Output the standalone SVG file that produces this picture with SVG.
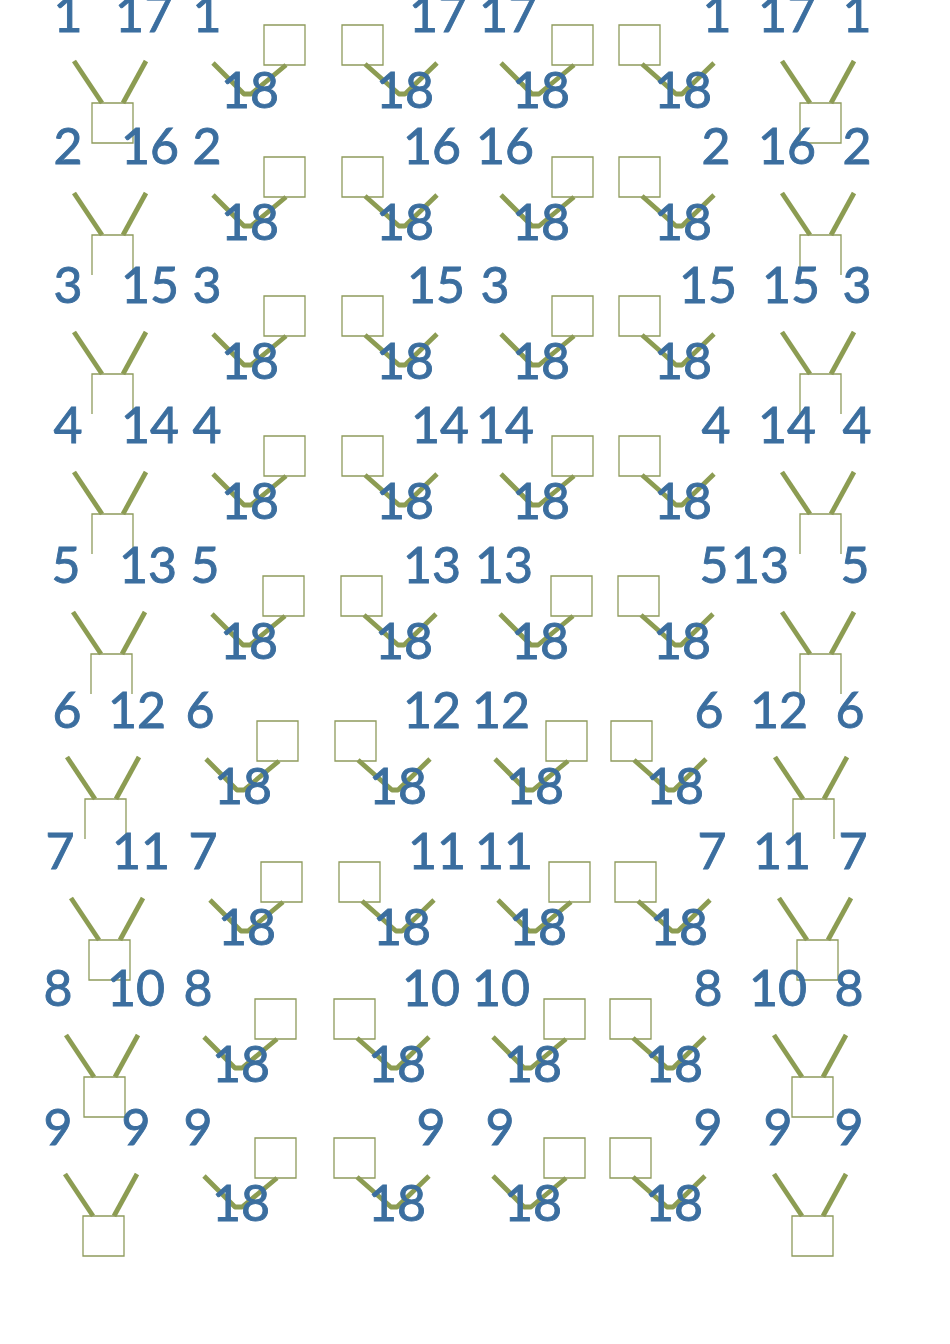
<svg xmlns="http://www.w3.org/2000/svg" xmlns:xlink="http://www.w3.org/1999/xlink" width="950" height="1344" viewBox="0 0 950 1344">
<style>
.bg{fill:#ffffff}
.nd{fill:none;stroke:#8f9b5c;stroke-width:1.3}
.cn{fill:none;stroke:#8c9c52;stroke-width:4.8;stroke-linecap:butt;stroke-linejoin:round}
text{font-family:Lato,"Open Sans","Liberation Sans",sans-serif;font-size:50px;fill:#3b6e9f;stroke:#3b6e9f;stroke-width:0.9;text-anchor:middle}
</style>
<defs>
<path id="cA" d="M-51,38 L-20,69 L-13,69 L22,40"/>
<path id="cB" d="M23,39 L57,69 L63,69 L95,38"/>
<path id="vL" d="M-18,-42 L10,0"/>
<path id="vR" d="M54,-42 L31,0"/>
<path id="sq" d="M0,0 H41 V40 H0 Z"/>
<path id="sqO" d="M0,40 V0 H41 V40"/>
</defs>
<rect class="bg" x="0" y="0" width="950" height="1344"/>

<g id="connectors" class="cn">
<use href="#cA" x="264" y="25"/><use href="#cB" x="342" y="25"/><use href="#cA" x="552" y="25"/><use href="#cB" x="619" y="25"/>
<use href="#vL" x="92" y="103"/><use href="#vR" x="92" y="103"/><use href="#vL" x="800" y="103"/><use href="#vR" x="800" y="103"/>
<use href="#cA" x="264" y="157"/><use href="#cB" x="342" y="157"/><use href="#cA" x="552" y="157"/><use href="#cB" x="619" y="157"/>
<use href="#vL" x="92" y="235"/><use href="#vR" x="92" y="235"/><use href="#vL" x="800" y="235"/><use href="#vR" x="800" y="235"/>
<use href="#cA" x="264" y="296"/><use href="#cB" x="342" y="296"/><use href="#cA" x="552" y="296"/><use href="#cB" x="619" y="296"/>
<use href="#vL" x="92" y="374"/><use href="#vR" x="92" y="374"/><use href="#vL" x="800" y="374"/><use href="#vR" x="800" y="374"/>
<use href="#cA" x="264" y="436"/><use href="#cB" x="342" y="436"/><use href="#cA" x="552" y="436"/><use href="#cB" x="619" y="436"/>
<use href="#vL" x="92" y="514"/><use href="#vR" x="92" y="514"/><use href="#vL" x="800" y="514"/><use href="#vR" x="800" y="514"/>
<use href="#cA" x="263" y="576"/><use href="#cB" x="341" y="576"/><use href="#cA" x="551" y="576"/><use href="#cB" x="618" y="576"/>
<use href="#vL" x="91" y="654"/><use href="#vR" x="91" y="654"/><use href="#vL" x="800" y="654"/><use href="#vR" x="800" y="654"/>
<use href="#cA" x="257" y="721"/><use href="#cB" x="335" y="721"/><use href="#cA" x="546" y="721"/><use href="#cB" x="611" y="721"/>
<use href="#vL" x="85" y="799"/><use href="#vR" x="85" y="799"/><use href="#vL" x="793" y="799"/><use href="#vR" x="793" y="799"/>
<use href="#cA" x="261" y="862"/><use href="#cB" x="339" y="862"/><use href="#cA" x="549" y="862"/><use href="#cB" x="615" y="862"/>
<use href="#vL" x="89" y="940"/><use href="#vR" x="89" y="940"/><use href="#vL" x="797" y="940"/><use href="#vR" x="797" y="940"/>
<use href="#cA" x="255" y="999"/><use href="#cB" x="334" y="999"/><use href="#cA" x="544" y="999"/><use href="#cB" x="610" y="999"/>
<use href="#vL" x="84" y="1077"/><use href="#vR" x="84" y="1077"/><use href="#vL" x="792" y="1077"/><use href="#vR" x="792" y="1077"/>
<use href="#cA" x="255" y="1138"/><use href="#cB" x="334" y="1138"/><use href="#cA" x="544" y="1138"/><use href="#cB" x="610" y="1138"/>
<use href="#vL" x="83" y="1216"/><use href="#vR" x="83" y="1216"/><use href="#vL" x="792" y="1216"/><use href="#vR" x="792" y="1216"/>
</g>

<g id="nodes" class="nd">
<g id="n1a"><use href="#sq" x="264" y="25"/></g><g id="n1b"><use href="#sq" x="342" y="25"/></g><g id="n1c"><use href="#sq" x="552" y="25"/></g><g id="n1d"><use href="#sq" x="619" y="25"/></g>
<g id="n1L"><use href="#sq" x="92" y="103"/></g><g id="n1R"><use href="#sq" x="800" y="103"/></g>
<g id="n2a"><use href="#sq" x="264" y="157"/></g><g id="n2b"><use href="#sq" x="342" y="157"/></g><g id="n2c"><use href="#sq" x="552" y="157"/></g><g id="n2d"><use href="#sq" x="619" y="157"/></g>
<g id="n2L"><use href="#sqO" x="92" y="235"/></g><g id="n2R"><use href="#sqO" x="800" y="235"/></g>
<g id="n3a"><use href="#sq" x="264" y="296"/></g><g id="n3b"><use href="#sq" x="342" y="296"/></g><g id="n3c"><use href="#sq" x="552" y="296"/></g><g id="n3d"><use href="#sq" x="619" y="296"/></g>
<g id="n3L"><use href="#sqO" x="92" y="374"/></g><g id="n3R"><use href="#sqO" x="800" y="374"/></g>
<g id="n4a"><use href="#sq" x="264" y="436"/></g><g id="n4b"><use href="#sq" x="342" y="436"/></g><g id="n4c"><use href="#sq" x="552" y="436"/></g><g id="n4d"><use href="#sq" x="619" y="436"/></g>
<g id="n4L"><use href="#sqO" x="92" y="514"/></g><g id="n4R"><use href="#sqO" x="800" y="514"/></g>
<g id="n5a"><use href="#sq" x="263" y="576"/></g><g id="n5b"><use href="#sq" x="341" y="576"/></g><g id="n5c"><use href="#sq" x="551" y="576"/></g><g id="n5d"><use href="#sq" x="618" y="576"/></g>
<g id="n5L"><use href="#sqO" x="91" y="654"/></g><g id="n5R"><use href="#sqO" x="800" y="654"/></g>
<g id="n6a"><use href="#sq" x="257" y="721"/></g><g id="n6b"><use href="#sq" x="335" y="721"/></g><g id="n6c"><use href="#sq" x="546" y="721"/></g><g id="n6d"><use href="#sq" x="611" y="721"/></g>
<g id="n6L"><use href="#sqO" x="85" y="799"/></g><g id="n6R"><use href="#sqO" x="793" y="799"/></g>
<g id="n7a"><use href="#sq" x="261" y="862"/></g><g id="n7b"><use href="#sq" x="339" y="862"/></g><g id="n7c"><use href="#sq" x="549" y="862"/></g><g id="n7d"><use href="#sq" x="615" y="862"/></g>
<g id="n7L"><use href="#sq" x="89" y="940"/></g><g id="n7R"><use href="#sq" x="797" y="940"/></g>
<g id="n8a"><use href="#sq" x="255" y="999"/></g><g id="n8b"><use href="#sq" x="334" y="999"/></g><g id="n8c"><use href="#sq" x="544" y="999"/></g><g id="n8d"><use href="#sq" x="610" y="999"/></g>
<g id="n8L"><use href="#sq" x="84" y="1077"/></g><g id="n8R"><use href="#sq" x="792" y="1077"/></g>
<g id="n9a"><use href="#sq" x="255" y="1138"/></g><g id="n9b"><use href="#sq" x="334" y="1138"/></g><g id="n9c"><use href="#sq" x="544" y="1138"/></g><g id="n9d"><use href="#sq" x="610" y="1138"/></g>
<g id="n9L"><use href="#sq" x="83" y="1216"/></g><g id="n9R"><use href="#sq" x="792" y="1216"/></g>
</g>

<g id="labels">
<g id="row1"><text x="68" y="32">1</text><text x="144" y="32">17</text><text x="207" y="32">1</text><text x="438" y="32">17</text><text x="508" y="32">17</text><text x="717" y="32">1</text><text x="787" y="32">17</text><text x="857" y="32">1</text>
<text x="250" y="108">18</text><text x="405" y="108">18</text><text x="541" y="108">18</text><text x="683" y="108">18</text></g>
<g id="row2"><text x="68" y="164">2</text><text x="150" y="164">16</text><text x="207" y="164">2</text><text x="432" y="164">16</text><text x="505" y="164">16</text><text x="716" y="164">2</text><text x="787" y="164">16</text><text x="857" y="164">2</text>
<text x="250" y="240">18</text><text x="405" y="240">18</text><text x="541" y="240">18</text><text x="683" y="240">18</text></g>
<g id="row3"><text x="68" y="303">3</text><text x="150" y="303">15</text><text x="207" y="303">3</text><text x="436" y="303">15</text><text x="495" y="303">3</text><text x="708" y="303">15</text><text x="791" y="303">15</text><text x="857" y="303">3</text>
<text x="250" y="379">18</text><text x="405" y="379">18</text><text x="541" y="379">18</text><text x="683" y="379">18</text></g>
<g id="row4"><text x="68" y="443">4</text><text x="150" y="443">14</text><text x="207" y="443">4</text><text x="440" y="443">14</text><text x="505" y="443">14</text><text x="716" y="443">4</text><text x="787" y="443">14</text><text x="857" y="443">4</text>
<text x="250" y="519">18</text><text x="405" y="519">18</text><text x="541" y="519">18</text><text x="683" y="519">18</text></g>
<g id="row5"><text x="66" y="583">5</text><text x="148" y="583">13</text><text x="205" y="583">5</text><text x="432" y="583">13</text><text x="504" y="583">13</text><text x="714" y="583">5</text><text x="760" y="583">13</text><text x="855" y="583">5</text>
<text x="249" y="659">18</text><text x="404" y="659">18</text><text x="540" y="659">18</text><text x="682" y="659">18</text></g>
<g id="row6"><text x="67" y="728">6</text><text x="137" y="728">12</text><text x="200" y="728">6</text><text x="432" y="728">12</text><text x="501" y="728">12</text><text x="709" y="728">6</text><text x="779" y="728">12</text><text x="850" y="728">6</text>
<text x="243" y="804">18</text><text x="398" y="804">18</text><text x="535" y="804">18</text><text x="675" y="804">18</text></g>
<g id="row7"><text x="60" y="869">7</text><text x="141" y="869">11</text><text x="203" y="869">7</text><text x="437" y="869">11</text><text x="504" y="869">11</text><text x="712" y="869">7</text><text x="782" y="869">11</text><text x="853" y="869">7</text>
<text x="247" y="945">18</text><text x="402" y="945">18</text><text x="538" y="945">18</text><text x="679" y="945">18</text></g>
<g id="row8"><text x="58" y="1006">8</text><text x="136" y="1006">10</text><text x="198" y="1006">8</text><text x="431" y="1006">10</text><text x="501" y="1006">10</text><text x="708" y="1006">8</text><text x="778" y="1006">10</text><text x="849" y="1006">8</text>
<text x="241" y="1082">18</text><text x="397" y="1082">18</text><text x="533" y="1082">18</text><text x="674" y="1082">18</text></g>
<g id="row9"><text x="58" y="1145">9</text><text x="136" y="1145">9</text><text x="198" y="1145">9</text><text x="431" y="1145">9</text><text x="500" y="1145">9</text><text x="708" y="1145">9</text><text x="778" y="1145">9</text><text x="849" y="1145">9</text>
<text x="241" y="1221">18</text><text x="397" y="1221">18</text><text x="533" y="1221">18</text><text x="674" y="1221">18</text></g>
</g>
</svg>
